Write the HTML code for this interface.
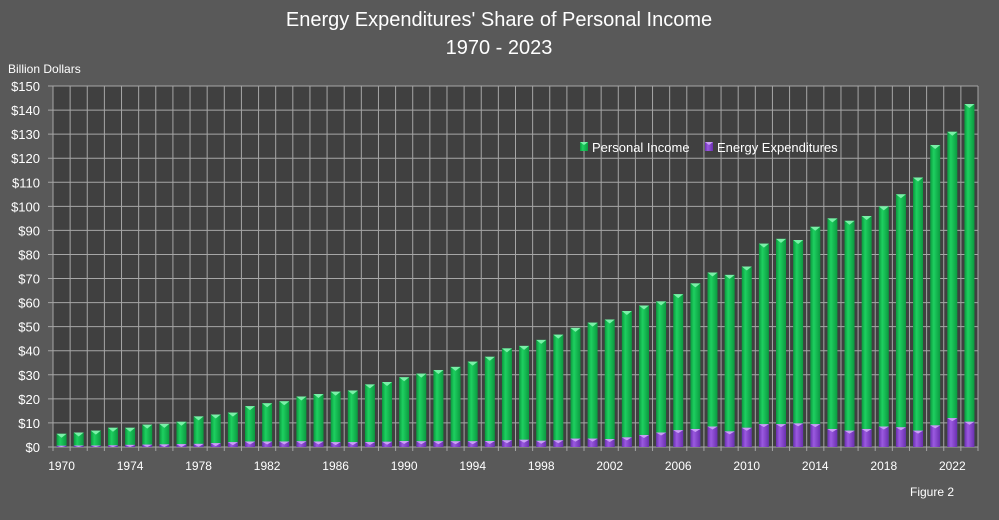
<!DOCTYPE html>
<html><head><meta charset="utf-8"><style>
html,body{margin:0;padding:0;background:#595959;}
svg{display:block;font-family:"Liberation Sans",sans-serif;}
</style></head><body>
<svg id="s" width="999" height="520" xmlns="http://www.w3.org/2000/svg">
<defs>
<linearGradient id="g" x1="0" x2="1"><stop offset="0" stop-color="#0a9a3e"/><stop offset="0.35" stop-color="#1ed060"/><stop offset="1" stop-color="#0b9a40"/></linearGradient>
<linearGradient id="p" x1="0" x2="1"><stop offset="0" stop-color="#6a2fb0"/><stop offset="0.35" stop-color="#9b5ae0"/><stop offset="1" stop-color="#6a2fb0"/></linearGradient>
</defs>
<rect width="999" height="520" fill="#595959"/>
<text x="499" y="26" font-size="20" fill="#fff" text-anchor="middle">Energy Expenditures' Share of Personal Income</text>
<text x="499" y="54" font-size="20" fill="#fff" text-anchor="middle">1970 - 2023</text>
<text x="8" y="73" font-size="12" fill="#fff">Billion Dollars</text>
<text x="910" y="496" font-size="12" fill="#fff">Figure 2</text>
<g id="plot"></g>
</svg>
<script>
var L=53,R=978,T=86,B=447,n=54,w=(R-L)/n,k=(B-T)/150;
var inc=[5.5,6,6.8,8,8,9.3,9.6,10.5,12.7,13.5,14.3,17,18.2,19,21,22,23,23.5,26,27,29,30.5,32,33.3,35.5,37.5,41,42,44.5,46.7,49.5,51.7,53,56.5,58.8,60.5,63.5,68,72.5,71.5,75,84.5,86.5,86,91.5,95,94,96,100,105,112,125.5,131,142.5];
var en=[0.5,0.6,0.6,0.7,0.9,1,1.1,1.2,1.3,1.6,2,2.3,2.3,2.3,2.4,2.3,2,2,2.1,2.2,2.5,2.4,2.4,2.4,2.4,2.5,2.8,3,2.6,2.8,3.5,3.5,3.3,4,5,6,7,7.5,8.5,6.5,8,9.5,9.5,9.8,9.5,7.5,6.8,7.5,8.5,8.2,6.8,9,12,10.5];
var h='<rect x="'+L+'" y="'+T+'" width="'+(R-L)+'" height="'+(B-T)+'" fill="#404040"/>';
for(var i=0;i<=15;i++){var y=B-i*10*k;h+='<line x1="'+(L-5)+'" x2="'+R+'" y1="'+y+'" y2="'+y+'" stroke="#a6a6a6" stroke-width="1"/>';
h+='<text x="40" y="'+(y+5)+'" font-size="13" fill="#fff" text-anchor="end">$'+(i*10)+'</text>';}
for(var i=0;i<=n;i++){var x=L+i*w;h+='<line x1="'+x+'" x2="'+x+'" y1="'+T+'" y2="'+(B+4)+'" stroke="#a6a6a6" stroke-width="1"/>';}
for(var i=0;i<n;i++){var cx=L+(i+0.5)*w,bw=10,x=cx-bw/2;
var hi=inc[i]*k,y=B-hi;
h+='<rect x="'+x+'" y="'+y+'" width="'+bw+'" height="'+hi+'" fill="url(#g)"/>';
h+='<polygon points="'+x+','+y+' '+(x+bw)+','+y+' '+cx+','+(y+4)+'" fill="#7af0a8"/>';
var he=en[i]*k,ye=B-he;
h+='<rect x="'+x+'" y="'+ye+'" width="'+bw+'" height="'+he+'" fill="url(#p)"/>';
h+='<polygon points="'+x+','+ye+' '+(x+bw)+','+ye+' '+cx+','+(ye+Math.min(3,he))+'" fill="#c9a0f5"/>';
if(i%4==0)h+='<text x="'+cx+'" y="470" font-size="12" fill="#fff" text-anchor="middle">'+(1970+i)+'</text>';}
h+='<rect x="580" y="142" width="8" height="9" fill="url(#g)"/><polygon points="580,142 588,142 584,145" fill="#7af0a8"/>';
h+='<text x="592" y="152" font-size="13" fill="#fff">Personal Income</text>';
h+='<rect x="705" y="142" width="8" height="9" fill="url(#p)"/><polygon points="705,142 713,142 709,145" fill="#c9a0f5"/>';
h+='<text x="717" y="152" font-size="13" fill="#fff">Energy Expenditures</text>';
document.getElementById('plot').innerHTML=h;
</script>
</body></html>
